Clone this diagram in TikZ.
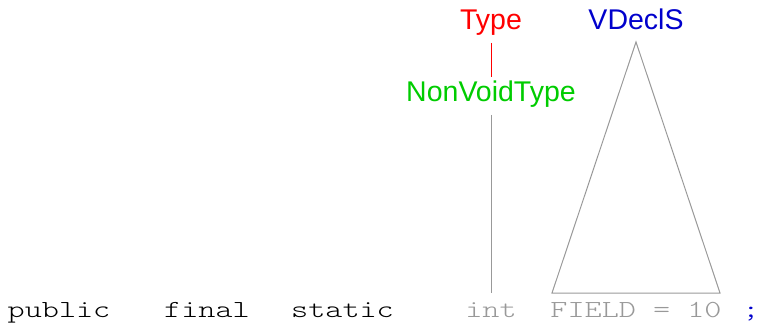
\documentclass[tikz,border=0pt]{standalone}
\usepackage{graphicx}
\usepackage{fontspec}
\setmainfont{Liberation Sans}
\newfontfamily\codefont{Latin Modern Mono Light}
\definecolor{tred}{RGB}{255,0,0}
\definecolor{tgreen}{RGB}{0,204,0}
\definecolor{tblue}{RGB}{0,0,204}
\definecolor{tgray}{RGB}{153,153,153}
\newcommand{\codetxt}[1]{\scalebox{1.33}[1]{#1}}
\begin{document}
\begin{tikzpicture}[x=1pt,y=-1pt,
  lbl/.style={inner sep=0pt,anchor=base,font=\fontsize{28.5}{30}\selectfont},
  code/.style={inner sep=0pt,anchor=base,font=\codefont\fontsize{24.5}{26}\selectfont},
  conn/.style={line width=1pt}]
\useasboundingbox (0,0) rectangle (759,323);
\node[lbl,text=tred] (type) at (491,30) {Type};
\node[lbl,text=tblue] (vdecls) at (636,30) {VDeclS};
\node[lbl,text=tgreen] (nvt) at (491,102) {NonVoidType};
\node[code] (public) at (59,317) {\codetxt{public}};
\node[code] (final) at (207,317) {\codetxt{final}};
\node[code] (static) at (342.5,317) {\codetxt{static}};
\node[code,text=tgray] (int) at (491,317) {\codetxt{int}};
\node[code,text=tgray] (field) at (636,317) {\codetxt{FIELD = 10}};
\node[code,text=tblue] (semi) at (751,317) {\codetxt{;}};
\coordinate (t1) at (491.5,43);
\coordinate (t2) at (491.5,77);
\coordinate (g1) at (491.5,115);
\coordinate (g2) at (491.5,293);
\coordinate (apex) at (636,42);
\coordinate (bl) at (552,293);
\coordinate (br) at (720,293);
\begin{scope}[color=tred]
\draw[conn,draw=tred] (t1) -- (t2);
\end{scope}
\draw[conn,draw=tgray] (g1) -- (g2);
\draw[conn,draw=tgray] (apex) -- (bl) -- (br) -- cycle;
\end{tikzpicture}
\end{document}
